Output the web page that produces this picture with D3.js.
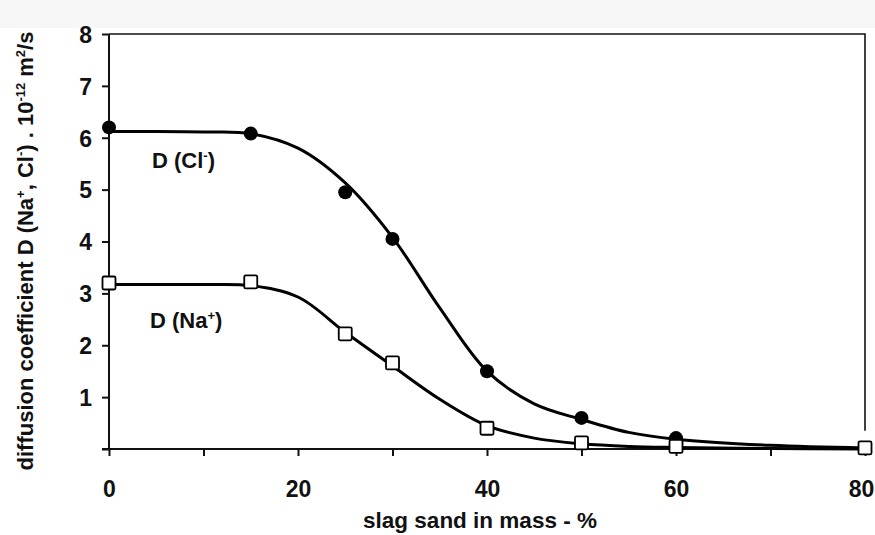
<!DOCTYPE html>
<html><head><meta charset="utf-8">
<script src="https://cdn.jsdelivr.net/npm/d3@7"></script>
<style>body{margin:0;background:#fff}svg{display:block;font-family:"Liberation Sans",Arial,sans-serif;font-weight:bold}</style>
</head><body><svg id="c" width="875" height="535"></svg>
<script>
// measured points
const xCl = [0, 15, 25, 30, 40, 50, 60, 80];
const yCl = [6.2, 6.08, 4.95, 4.05, 1.5, 0.6, 0.21, 0.02];
const xNa = [0, 15, 25, 30, 40, 50, 60, 80];
const yNa = [3.2, 3.22, 2.22, 1.66, 0.4, 0.12, 0.05, 0.02];
// fitted curves
const fitX = [0, 5, 10, 15, 20, 25, 30, 35, 40, 45, 50, 55, 60, 70, 80];
const fitCl = [6.12, 6.12, 6.11, 6.08, 5.8, 5.13, 4.08, 2.72, 1.5, 0.87, 0.57, 0.32, 0.19, 0.07, 0.02];
const fitNa = [3.17, 3.17, 3.17, 3.15, 2.93, 2.25, 1.6, 0.96, 0.45, 0.21, 0.1, 0.05, 0.03, 0.01, 0.0];
const xTicks = [0, 10, 20, 30, 40, 50, 60, 70, 80];
const xLabels = [0, 20, 40, 60, 80];
const yTicks = [0, 1, 2, 3, 4, 5, 6, 7, 8];
const yLabels = [1, 2, 3, 4, 5, 6, 7, 8];

const svg = d3.select("#c");
svg.append("rect").attr("x",0).attr("y",0).attr("width",875).attr("height",28).attr("fill","#f7f7f7");

const x = d3.scaleLinear().domain([0,80]).range([109,865]);
const y = d3.scaleLinear().domain([0,8]).range([449,34]);

// frame top/right
svg.append("path").attr("d",`M${x(0)},${y(8)}H${x(80)}V${y(0.35)}`).attr("fill","none").attr("stroke","#111").attr("stroke-width",1.6);

const gx = svg.append("g").attr("transform",`translate(0,${y(0)})`)
  .call(d3.axisBottom(x).tickValues(xTicks).tickSize(7).tickFormat(d=>xLabels.includes(d)?d:""));
const gy = svg.append("g").attr("transform",`translate(${x(0)},0)`)
  .call(d3.axisLeft(y).tickValues(yTicks).tickSize(7).tickFormat(d=>yLabels.includes(d)?d:""));
[gx,gy].forEach(g=>{
  g.selectAll("path,line").attr("stroke","#111").attr("stroke-width",2);
  g.select(".domain").attr("d", g===gx ? `M${x(0)-7},0H${x(80)}` : `M0,${y(8)}V${y(0)}`);
  g.selectAll("text").attr("fill","#111").attr("font-size",23).attr("font-family","Liberation Sans, Arial, sans-serif").attr("font-weight","bold");
});
gx.selectAll("text").attr("y",27).attr("dy","0.9em");
gx.selectAll("text").filter(d=>d===80).attr("x",-4);
gy.selectAll("text").attr("x",-17).attr("dy","0.36em");

const line = d3.line().x(d=>x(d[0])).y(d=>y(d[1])).curve(d3.curveCatmullRom.alpha(0.5));
svg.append("path").datum(fitX.map((v,i)=>[v,fitCl[i]])).attr("d",line).attr("fill","none").attr("stroke","#000").attr("stroke-width",3);
svg.append("path").datum(fitX.map((v,i)=>[v,fitNa[i]])).attr("d",line).attr("fill","none").attr("stroke","#000").attr("stroke-width",3);

svg.selectAll("circle.cl").data(xCl.map((v,i)=>[v,yCl[i]])).join("circle")
  .attr("cx",d=>x(d[0])).attr("cy",d=>y(d[1])).attr("r",7).attr("fill","#000");
const s=13;
svg.selectAll("rect.na").data(xNa.map((v,i)=>[v,yNa[i]])).join("rect").attr("class","na")
  .attr("x",d=>x(d[0])-s/2).attr("y",d=>y(d[1])-s/2).attr("width",s).attr("height",s).attr("rx",1.5)
  .attr("fill","#fff").attr("stroke","#000").attr("stroke-width",1.8);

// series labels
const t1 = svg.append("text").attr("x",152).attr("y",168).attr("font-size",22).attr("fill","#111");
t1.append("tspan").text("D (Cl");
t1.append("tspan").attr("font-size",13).attr("dy",-8).text("-");
t1.append("tspan").attr("dy",8).text(")");
const t2 = svg.append("text").attr("x",150).attr("y",328).attr("font-size",22).attr("fill","#111");
t2.append("tspan").text("D (Na");
t2.append("tspan").attr("font-size",13).attr("dy",-8).text("+");
t2.append("tspan").attr("dy",8).text(")");

// axis titles
svg.append("text").attr("x",480).attr("y",528).attr("text-anchor","middle").attr("font-size",22.5).attr("fill","#111").text("slag sand in mass - %");
const yt = svg.append("text").attr("transform","translate(33,251) rotate(-90)").attr("text-anchor","middle").attr("font-size",22).attr("fill","#111");
yt.append("tspan").text("diffusion coefficient D (Na");
yt.append("tspan").attr("font-size",13).attr("dy",-8).text("+");
yt.append("tspan").attr("dy",8).text(", Cl");
yt.append("tspan").attr("font-size",13).attr("dy",-8).text("-");
yt.append("tspan").attr("dy",8).text(") . 10");
yt.append("tspan").attr("font-size",13).attr("dy",-8).text("-12");
yt.append("tspan").attr("dy",8).text(" m");
yt.append("tspan").attr("font-size",13).attr("dy",-8).text("2");
yt.append("tspan").attr("dy",8).text("/s");
</script></body></html>
